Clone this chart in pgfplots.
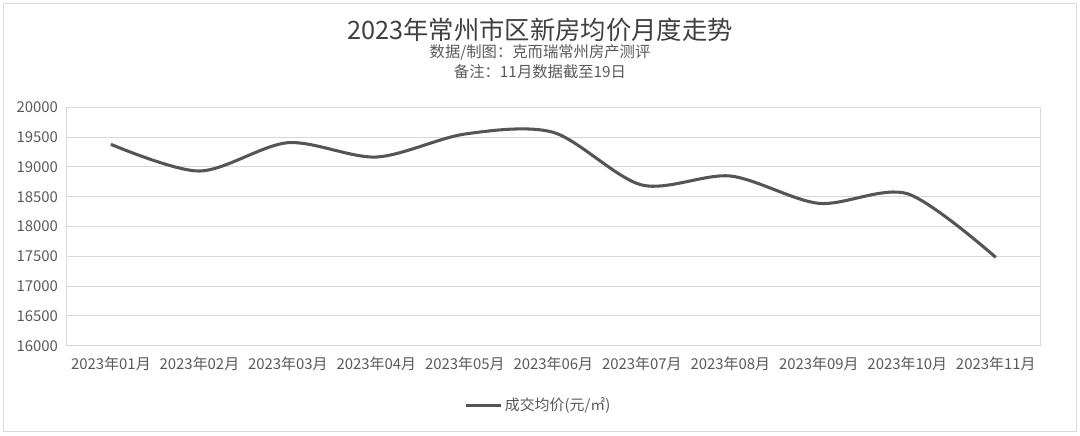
\documentclass[border=0pt]{standalone}
\usepackage{fontspec}
\setmainfont{Noto Sans CJK SC}
\usepackage{pgfplots}
\pgfplotsset{compat=1.18}
\definecolor{txt}{HTML}{595959}
\definecolor{ttl}{HTML}{404040}
\definecolor{gridc}{HTML}{D9D9D9}
\definecolor{ln}{HTML}{555555}
\begin{document}
\begin{tikzpicture}
\useasboundingbox (0,0) rectangle (810pt,-326.25pt);
\draw[gridc, line width=0.75pt] (2.5pt,-3pt) rectangle (807.5pt,-323.25pt);
\node[ttl, font=\fontsize{19}{22}\selectfont] at (405pt,-22.5pt) {2023年常州市区新房均价月度走势};
\node[txt, font=\fontsize{11.5}{13}\selectfont] at (405pt,-39.5pt) {数据/制图：克而瑞常州房产测评};
\node[txt, font=\fontsize{11.5}{13}\selectfont] at (405pt,-54pt) {备注：11月数据截至19日};
\begin{axis}[
  scale only axis, width=730pt, height=178.8pt,
  anchor=north west, at={(50pt,-80.5pt)},
  xmin=0.5, xmax=11.5, ymin=16000, ymax=20000,
  ytick={16000,16500,...,20000},
  scaled y ticks=false,
  xtick={1,...,11},
  xticklabels={2023年01月,2023年02月,2023年03月,2023年04月,2023年05月,2023年06月,2023年07月,2023年08月,2023年09月,2023年10月,2023年11月},
  ymajorgrids, grid style={gridc, line width=0.75pt},
  axis line style={gridc, line width=0.75pt},
  major tick length=0pt,
  tick label style={txt, font=\fontsize{11.2}{13}\selectfont},
  /pgf/number format/assume math mode=true,
  yticklabel style={/pgf/number format/fixed, /pgf/number format/set thousands separator={}, xshift=-3pt},
  xticklabel style={yshift=-5pt},
  legend style={at={(0.485,-0.25)}, anchor=center, draw=none, fill=none, font=\fontsize{11.2}{13}\selectfont, text=txt},
  legend image code/.code={\draw[#1] (0pt,0pt) -- (26pt,0pt);},
]
\addplot[ln, line width=2.3pt, smooth, tension=0.5] coordinates {
 (1,19379) (2,18931) (3,19407) (4,19166) (5,19552) (6,19580) (7,18697) (8,18848) (9,18389) (10,18551) (11,17483)};
\addlegendentry{成交均价(元/㎡)}
\end{axis}
\end{tikzpicture}
\end{document}
